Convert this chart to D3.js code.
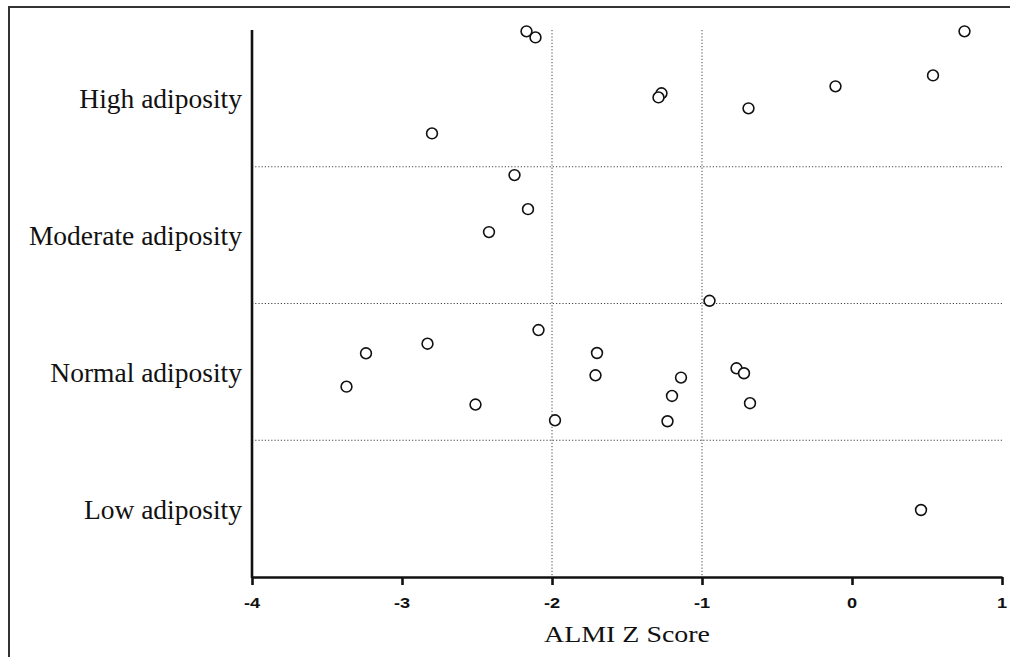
<!DOCTYPE html>
<html>
<head>
<meta charset="utf-8">
<script src="https://cdn.jsdelivr.net/npm/d3@7"></script>
<style>
  body { margin: 0; background: #fff; }
  svg { display: block; }
  .cat-label { font-family: "Liberation Serif", "Times New Roman", serif; font-size: 27.5px; fill: #111; }
  .axis-title { font-family: "Liberation Serif", "Times New Roman", serif; font-size: 23px; fill: #111; }
  .grid-line { stroke: #444; stroke-width: 1; stroke-dasharray: 1.2,2; }
  .pt { fill: #fff; stroke: #111; stroke-width: 1.6; }
</style>
</head>
<body>
<svg id="chart" width="1010" height="657"></svg>
<script>
// ---- data ----
const categories = ["Low adiposity", "Normal adiposity", "Moderate adiposity", "High adiposity"];
const xTicks = [-4, -3, -2, -1, 0, 1];
const refLinesX = [-2, -1];

// ALMI Z score per subject, and vertical jitter inside its category band
const highZ      = [-2.17, -2.11, 0.75, 0.54, -0.11, -1.27, -1.29, -0.69, -2.80];
const highJitter = [0.49, 0.446, 0.49, 0.168, 0.088, 0.037, 0.007, -0.073, -0.256];

const moderateZ      = [-2.25, -2.16, -2.42];
const moderateJitter = [0.439, 0.19, 0.022];

const normalZ      = [-0.95, -2.09, -2.83, -3.24, -1.70, -1.71, -3.37, -1.14, -0.77, -0.72, -1.20, -0.68, -2.51, -1.98, -1.23];
const normalJitter = [0.52, 0.306, 0.206, 0.136, 0.138, -0.025, -0.108, -0.042, 0.026, -0.01, -0.176, -0.229, -0.239, -0.354, -0.361];

const lowZ      = [0.46];
const lowJitter = [-0.01];

// ---- layout ----
const svg = d3.select("#chart");
const viewW = 1010, viewH = 657;
const margin = { top: 30, right: 8, bottom: 80, left: 252 };
const innerW = viewW - margin.left - margin.right;
const innerH = viewH - margin.top - margin.bottom;

// outer frame (cut off at right/bottom like the source)
svg.append("rect")
  .attr("x", 9).attr("y", 7)
  .attr("width", 1100).attr("height", 800)
  .attr("fill", "none").attr("stroke", "#333").attr("stroke-width", 2);

const g = svg.append("g").attr("transform", `translate(${margin.left},${margin.top})`);

const xScale = d3.scaleLinear().domain([-4, 1]).range([0, innerW]);
const yScale = d3.scaleLinear().domain([-0.5, categories.length - 0.5]).range([innerH, 0]);

/* ---------- grid ---------- */
// band separators
g.selectAll(".band-sep")
  .data(d3.range(0.5, categories.length - 0.5, 1))
  .join("line")
  .attr("class", "grid-line band-sep")
  .attr("x1", 0).attr("x2", innerW)
  .attr("y1", d => yScale(d)).attr("y2", d => yScale(d));

g.selectAll(".ref-x")
  .data(refLinesX)
  .join("line")
  .attr("class", "grid-line ref-x")
  .attr("x1", d => xScale(d)).attr("x2", d => xScale(d))
  .attr("y1", 0).attr("y2", innerH);

/* ---------- axes ---------- */
const xAxis = d3.axisBottom(xScale).tickValues(xTicks).tickFormat("")
  .tickSize(8).tickSizeOuter(0);

const xg = g.append("g")
  .attr("transform", `translate(0,${innerH})`)
  .call(xAxis);
xg.select(".domain").attr("stroke", "#111").attr("stroke-width", 2.6);
xg.selectAll(".tick line").attr("stroke", "#111").attr("stroke-width", 2.6);
xg.selectAll(".tick text").remove();

// tick labels: the source glyphs are a bit wider than normal, so stretch them
const tickLabels = g.append("g")
  .attr("transform", `translate(0,${innerH})`)
  .attr("font-family", "'Liberation Sans', Arial, sans-serif")
  .attr("font-weight", "bold")
  .attr("font-size", 14)
  .attr("fill", "#111");

tickLabels.selectAll("text")
  .data(xTicks)
  .join("text")
  .attr("transform", d => `translate(${xScale(d)},31) scale(1.3,1)`)
  .attr("text-anchor", "middle")
  .text(d => d < 0 ? "-" + Math.abs(d) : String(d));

// y axis line, no ticks
g.append("line")
  .attr("x1", 0).attr("x2", 0)
  .attr("y1", 0).attr("y2", innerH + 1)
  .attr("stroke", "#111").attr("stroke-width", 2.6);

g.selectAll(".cat-label")
  .data(categories)
  .join("text")
  .attr("class", "cat-label")
  .attr("x", -10)
  .attr("y", (d, i) => yScale(i) + 10)
  .attr("text-anchor", "end")
  .text(d => d);

g.append("text").attr("class", "axis-title")
  .attr("x", innerW / 2).attr("y", innerH + 65)
  .attr("text-anchor", "middle")
  .attr("textLength", 166).attr("lengthAdjust", "spacingAndGlyphs")
  .text("ALMI Z Score");

/* ---------- points ---------- */
const groups = [
  { idx: 3, z: highZ, jit: highJitter },
  { idx: 2, z: moderateZ, jit: moderateJitter },
  { idx: 1, z: normalZ, jit: normalJitter },
  { idx: 0, z: lowZ, jit: lowJitter }
];
const points = groups.flatMap(gr => gr.z.map((z, i) => ({ z, y: gr.idx + gr.jit[i] })));

g.selectAll(".pt")
  .data(points)
  .join("circle")
  .attr("class", "pt")
  .attr("cx", d => xScale(d.z))
  .attr("cy", d => yScale(d.y))
  .attr("r", 5.4);
</script>
</body>
</html>
